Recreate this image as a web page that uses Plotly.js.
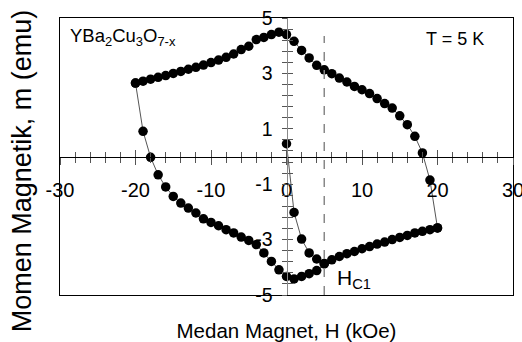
<!DOCTYPE html>
<html>
<head>
<meta charset="utf-8">
<script src="https://cdn.plot.ly/plotly-3.0.1.min.js"></script>
<style>
  html, body { margin: 0; padding: 0; background: #fff; }
  #chart { width: 522px; height: 342px; }
</style>
</head>
<body>
<div id="chart"></div>
<script>
/* Kurva histeresis YBa2Cu3O7-x, T = 5 K
   H dalam kOe, m dalam emu */

/* kurva perawan (virgin) 0 -> 5 kOe */
const virginH = [0, 1, 2, 3, 4, 5];
const virginM = [0.46, -2.02, -2.98, -3.48, -3.70, -3.86];

/* cabang turun: +20 -> -20 kOe */
const descH = [20, 19, 18, 17, 16, 15, 14, 13, 12, 11, 10, 9, 8, 7, 6, 5, 4, 3, 2, 1, 0,
               -1, -2, -3, -4, -5, -6, -7, -8, -9, -10, -11, -12, -13, -14, -15, -16, -17, -18, -19, -20];
const descM = [-2.58, -0.85, 0.13, 0.73, 1.15, 1.47, 1.75, 1.91, 2.09, 2.27, 2.41, 2.53, 2.69, 2.83, 2.99, 3.13, 3.29, 3.56, 3.83, 4.16, 4.40,
               4.49, 4.40, 4.30, 4.22, 3.98, 3.86, 3.70, 3.58, 3.48, 3.39, 3.30, 3.22, 3.15, 3.07, 3.00, 2.92, 2.86, 2.79, 2.72, 2.65];

/* cabang naik: -20 -> +20 kOe */
const ascH = [-20, -19, -18, -17, -16, -15, -14, -13, -12, -11, -10, -9, -8, -7, -6, -5, -4, -3, -2, -1, 0,
              1, 2, 3, 4, 5, 6, 7, 8, 9, 10, 11, 12, 13, 14, 15, 16, 17, 18, 19, 20];
const ascM = [2.65, 0.91, -0.03, -0.66, -1.10, -1.44, -1.68, -1.86, -2.04, -2.25, -2.38, -2.50, -2.64, -2.76, -2.91, -3.03, -3.18, -3.48, -3.79, -4.09, -4.33,
              -4.42, -4.33, -4.23, -4.12, -3.88, -3.73, -3.61, -3.51, -3.43, -3.33, -3.25, -3.16, -3.09, -3.00, -2.92, -2.85, -2.76, -2.70, -2.64, -2.58];

/* label sumbu (tanda minus biasa, seperti aslinya) */
const xTickVals = [-30, -20, -10, 0, 10, 20, 30];
const xTickText = ['-30', '-20', '-10', '0', '10', '20', '30'];
const yTickVals = [-5, -3, -1, 1, 3, 5];
const yTickText = ['-5', '-3', '-1', '1', '3', '5'];

/* medan kritis bawah */
const HC1 = 5;
const HC1_TOP = 4.35;

const FONT = 'Liberation Sans, Arial, sans-serif';

const branch = (x, y) => ({
  x, y,
  type: 'scatter',
  mode: 'lines+markers',
  line: { color: '#555', width: 1 },
  marker: { color: '#000', size: 9.5 },
  showlegend: false,
  hoverinfo: 'skip'
});

/* trace kosong, hanya supaya sumbu silang ikut digambar */
const axisHolder = (xa, ya) => ({
  x: [], y: [], type: 'scatter', mode: 'markers',
  xaxis: xa, yaxis: ya, showlegend: false, hoverinfo: 'skip'
});

const traces = [
  axisHolder('x2', 'y2'),
  axisHolder('x3', 'y3'),
  branch(virginH, virginM),
  branch(descH, descM),
  branch(ascH, ascM)
];

/* sumbu bersilang di (0,0): satu untuk tick ke luar, satu ke dalam */
const crossX = (inside) => ({
  overlaying: 'x', anchor: 'free', position: 0.5,
  range: [-30, 30], showgrid: false, zeroline: false,
  showline: !inside, linecolor: '#000', linewidth: 1,
  ticks: inside ? 'inside' : 'outside', ticklen: 7, tickcolor: '#555',
  tickmode: 'array', tickvals: xTickVals, ticktext: xTickText,
  minor: { tickmode: 'linear', dtick: 2, tick0: 0, ticks: inside ? 'inside' : 'outside', ticklen: 5, tickcolor: '#555' },
  showticklabels: !inside,
  tickfont: { family: FONT, size: 20, color: '#000' },
  ticklabelstandoff: 8,
  ticklabeloverflow: 'allow'
});

const crossY = (inside) => ({
  overlaying: 'y', anchor: 'free', position: 0.5, side: 'left',
  range: [-5, 5], showgrid: false, zeroline: false,
  showline: !inside, linecolor: '#888', linewidth: 1.5,
  ticks: inside ? 'inside' : 'outside', ticklen: 5, tickcolor: '#555',
  tickmode: 'array', tickvals: yTickVals, ticktext: yTickText,
  minor: { tickmode: 'linear', dtick: 0.4, tick0: -5, ticks: inside ? 'inside' : 'outside', ticklen: 5, tickcolor: '#555' },
  showticklabels: !inside,
  tickfont: { family: FONT, size: 19.5, color: '#000' },
  ticklabelstandoff: 5,
  ticklabeloverflow: 'allow'
});

const layout = {
  width: 522, height: 342,
  margin: { l: 60, r: 9, t: 18, b: 47 },
  paper_bgcolor: '#fff', plot_bgcolor: '#fff',
  font: { family: FONT, color: '#000' },
  xaxis: {
    range: [-30, 30], showgrid: false, zeroline: false,
    showline: true, mirror: true, linecolor: '#000', linewidth: 1,
    ticks: '', showticklabels: false,
    title: { text: 'Medan Magnet, H (kOe)', font: { family: FONT, size: 20.5 }, standoff: 28 }
  },
  yaxis: {
    range: [-5, 5], showgrid: false, zeroline: false,
    showline: true, mirror: true, linecolor: '#000', linewidth: 1,
    ticks: '', showticklabels: false
  },
  xaxis2: crossX(false),
  xaxis3: crossX(true),
  yaxis2: crossY(false),
  yaxis3: crossY(true),
  shapes: [{
    type: 'line', xref: 'x', yref: 'y',
    x0: HC1, x1: HC1, y0: -5, y1: HC1_TOP,
    line: { color: '#888', width: 1.5, dash: 'dash' }
  }],
  annotations: [
    /* judul sumbu y, sedikit di bawah tengah seperti aslinya */
    { xref: 'paper', yref: 'paper', x: -0.083, y: 0.448, xanchor: 'center', yanchor: 'middle',
      text: 'Momen Magnetik, m (emu)', textangle: -90, showarrow: false,
      font: { family: FONT, size: 27 } },
    { xref: 'paper', yref: 'paper', x: 0.0177, y: 0.931, xanchor: 'left', yanchor: 'middle',
      text: 'YBa<sub>2</sub>Cu<sub>3</sub>O<sub>7-x</sub>', showarrow: false,
      font: { family: FONT, size: 18.5 } },
    { xref: 'paper', yref: 'paper', x: 0.94, y: 0.924, xanchor: 'right', yanchor: 'middle',
      text: 'T = 5 K', showarrow: false, font: { family: FONT, size: 18 } },
    { xref: 'paper', yref: 'paper', x: 0.607, y: 0.058, xanchor: 'left', yanchor: 'middle',
      text: 'H<sub>C1</sub>', showarrow: false, font: { family: FONT, size: 21 } }
  ]
};

Plotly.newPlot('chart', traces, layout, { displayModeBar: false, staticPlot: true });
</script>
</body>
</html>
